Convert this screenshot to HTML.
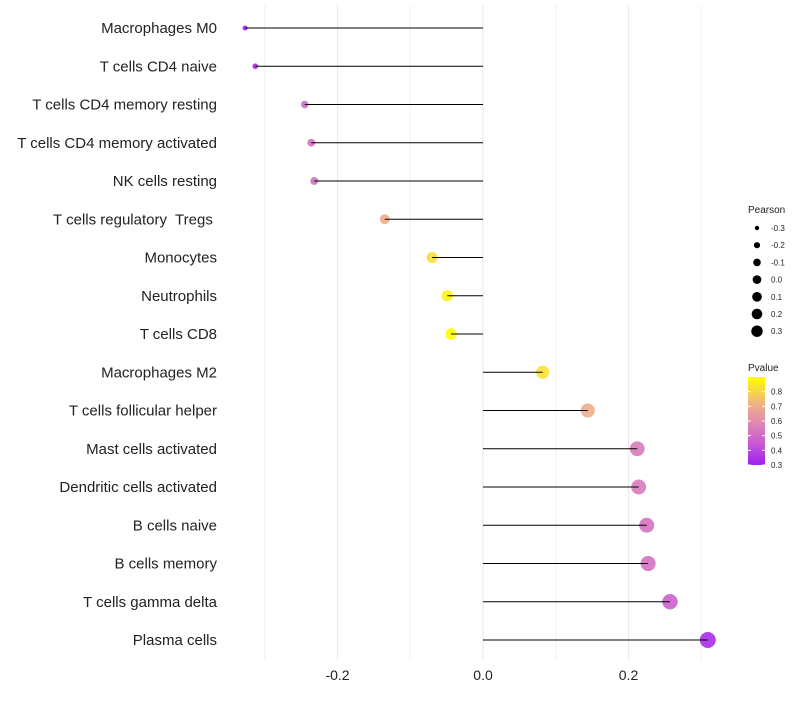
<!DOCTYPE html>
<html><head><meta charset="utf-8"><style>
body{margin:0;background:#fff;}
svg text{font-family:"Liberation Sans",sans-serif;white-space:pre;}
</style></head><body>
<svg id="chart" width="800" height="700"></svg>
<script>
const categories=["Macrophages M0","T cells CD4 naive","T cells CD4 memory resting","T cells CD4 memory activated","NK cells resting","T cells regulatory  Tregs ","Monocytes","Neutrophils","T cells CD8","Macrophages M2","T cells follicular helper","Mast cells activated","Dendritic cells activated","B cells naive","B cells memory","T cells gamma delta","Plasma cells"];
const pearson=[-0.327,-0.313,-0.245,-0.236,-0.232,-0.135,-0.070,-0.049,-0.044,0.082,0.144,0.212,0.214,0.225,0.227,0.257,0.309];
const pvalue=[0.30,0.33,0.50,0.52,0.52,0.70,0.82,0.87,0.90,0.83,0.70,0.55,0.55,0.52,0.52,0.47,0.33];
const xTicks=[-0.2,0,0.2];
const xTickLabels=["-0.2","0.0","0.2"];
const minorTicks=[-0.3,-0.1,0.1,0.3];
const sizeLegend=[-0.3,-0.2,-0.1,0.0,0.1,0.2,0.3];
const pLegend=[0.3,0.4,0.5,0.6,0.7,0.8];

const svg=document.getElementById('chart');
const NS='http://www.w3.org/2000/svg';
function mk(tag,attrs,parent){const e=document.createElementNS(NS,tag);for(const k in attrs)e.setAttribute(k,attrs[k]);(parent||svg).appendChild(e);return e;}
const x=v=>483+v*727.5;
const y=i=>28+i*38.25;
const rad=v=>0.5+Math.sqrt(Math.max(1,30.8+81.25*v));
const stops=[[0.3,[160,32,240]],[0.45,[200,90,210]],[0.6,[225,140,175]],[0.72,[240,180,130]],[0.9,[255,255,0]]];
function col(p){if(p<=stops[0][0])return 'rgb('+stops[0][1]+')';for(let i=1;i<stops.length;i++){if(p<=stops[i][0]){const a=stops[i-1],b=stops[i],t=(p-a[0])/(b[0]-a[0]);return 'rgb('+a[1].map((c,j)=>Math.round(c+(b[1][j]-c)*t)).join(',')+')';}}return 'rgb('+stops[stops.length-1][1]+')';}

minorTicks.forEach(t=>{const l=mk('line',{x1:x(t),x2:x(t),y1:5,y2:660,stroke:'#f2f2f2','stroke-width':1});
});
xTicks.forEach((t,i)=>{const l=mk('line',{x1:x(t),x2:x(t),y1:5,y2:660,stroke:'#ebebeb','stroke-width':1.2});

const tx=mk('text',{x:x(t),y:680,'text-anchor':'middle','font-size':14,fill:'#222'});tx.textContent=xTickLabels[i];
});

categories.forEach((c,i)=>{
const t=mk('text',{x:217,y:y(i)+5,'text-anchor':'end','font-size':15,fill:'#222'});t.textContent=c;

const p=mk('circle',{cx:x(pearson[i]),cy:y(i),r:rad(pearson[i]),fill:col(pvalue[i]),opacity:0.9});

const l=mk('line',{x1:x(0),x2:x(pearson[i]),y1:y(i),y2:y(i),stroke:'#000','stroke-width':1});

});

const lt=mk('text',{x:748,y:213,'font-size':10,fill:'#222'});lt.textContent='Pearson';

sizeLegend.forEach((v,i)=>{const cy=228+i*17.2;
const c=mk('circle',{cx:757,cy:cy,r:rad(v)*0.72,fill:'#000'});

const t=mk('text',{x:771,y:cy+3,'font-size':8,fill:'#222'});t.textContent=v.toFixed(1);
});

const pt=mk('text',{x:748,y:371,'font-size':10,fill:'#222'});pt.textContent='Pvalue';

const defs=mk('defs',{});const g=mk('linearGradient',{id:'pg',x1:0,y1:1,x2:0,y2:0},defs);
stops.forEach(s=>mk('stop',{offset:((s[0]-0.3)/0.6),'stop-color':'rgb('+s[1]+')'},g));
const bar=mk('rect',{x:748,y:377,width:17,height:88,fill:'url(#pg)'});

const py=p=>465-(p-0.3)/0.6*88;
pLegend.forEach(p=>{
mk('line',{x1:748,x2:751,y1:py(p),y2:py(p),stroke:'#fff'});mk('line',{x1:762,x2:765,y1:py(p),y2:py(p),stroke:'#fff'});
const t=mk('text',{x:771,y:py(p)+3,'font-size':8,fill:'#222'});t.textContent=p.toFixed(1);
});
</script>
</body></html>
